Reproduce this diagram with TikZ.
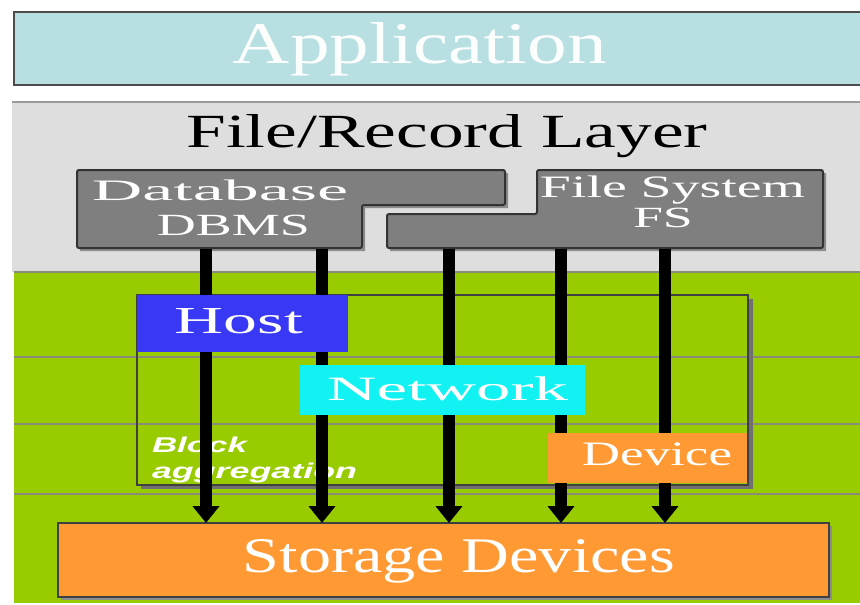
\documentclass[tikz,border=0pt]{standalone}
\usepackage{fontspec}
\setmainfont{Liberation Serif}
\newfontfamily\blkfont{Liberation Sans}
\usetikzlibrary{arrows.meta}
\definecolor{appfill}{HTML}{B8DFE2}
\definecolor{layergray}{HTML}{DEDEDE}
\definecolor{boxgray}{HTML}{7F7F7F}
\definecolor{lgreen}{HTML}{99CC00}
\definecolor{hostblue}{HTML}{3838F5}
\definecolor{netcyan}{HTML}{12F2F2}
\definecolor{devorange}{HTML}{FF9933}
\definecolor{gridgray}{HTML}{8A8A7A}
\definecolor{shadowgray}{HTML}{8C8C8C}
\newcommand\fitlab[3]{\resizebox{#1pt}{#2pt}{#3}}
\tikzset{
  plainbox/.style={rectangle, inner sep=0pt, outer sep=0pt, anchor=north west},
  lbl/.style={inner sep=0pt, outer sep=0pt, anchor=base, text=white},
  gridline/.style={draw=gridgray, line width=1.8pt},
  graybox/.style={fill=boxgray, draw=black!80, line width=2pt, rounded corners=2pt},
  flowarrow/.style={line width=12pt, -{Triangle[width=26pt,length=17pt]}},
}
\begin{document}
\begin{tikzpicture}[x=1pt,y=-1pt]
\useasboundingbox (0,0) rectangle (860,605);
\fill[white] (0,0) rectangle (860,605);

% Application layer
\node[plainbox, fill=appfill, draw=black!70, line width=2.2pt,
      minimum width=850pt, minimum height=73pt] (app) at (14,12) {};
\node[lbl, text=white!96!appfill] (apptext) at (420,63) {\fitlab{374}{41}{Application}};

% File/Record layer background
\fill[layergray] (12,102) rectangle (860,272);
\draw[draw=black!40, line width=2pt] (12,102) -- (860,102);
\node[lbl, text=black] (filerec) at (447,147) {\fitlab{521}{33}{File/Record Layer}};

% Green block area
\fill[lgreen] (14,272) rectangle (860,603);
\foreach \yy in {272,357,424,494} \draw[gridline] (14,\yy) -- (860,\yy);

% Database and File System shapes
\fill[shadowgray, shift={(3,3)}] (77,170) -- (505,170) -- (505,205) -- (362,205) -- (362,248) -- (77,248) -- cycle;
\fill[shadowgray, shift={(3,3)}] (537,170) -- (823,170) -- (823,248) -- (387,248) -- (387,214) -- (537,214) -- cycle;
\draw[graybox] (77,170) -- (505,170) -- (505,205) -- (362,205) -- (362,248) -- (77,248) -- cycle;
\draw[graybox] (537,170) -- (823,170) -- (823,248) -- (387,248) -- (387,214) -- (537,214) -- cycle;
\node[lbl] (dbtext) at (220,200) {\fitlab{256}{20.6}{Database}};
\node[lbl] (dbmstext) at (233.5,235) {\fitlab{153}{20.4}{DBMS}};
\node[lbl] (fstext) at (672.5,197) {\fitlab{265}{21.6}{File System}};
\node[lbl] (fsabbr) at (663,227) {\fitlab{60}{19.4}{FS}};

% Block aggregation frame
\fill[shadowgray!80!black] (748,299) rectangle (752.5,489);
\fill[shadowgray!80!black] (141,485) rectangle (752.5,489);
\node[plainbox, draw=black!75, line width=1.5pt, minimum width=611pt, minimum height=190pt] (blockframe) at (137,295) {};
\node[lbl, anchor=base west] (blk1) at (152,452) {\blkfont\bfseries\itshape\fitlab{95}{15.5}{Block}};
\node[lbl, anchor=base west] (blk2) at (152,478) {\blkfont\bfseries\itshape\fitlab{205}{15.5}{aggregation}};

% Storage devices
\fill[shadowgray] (61,526) rectangle (832,600);
\node[plainbox, fill=devorange, draw=black!75, line width=1.5pt,
      minimum width=771pt, minimum height=74pt] (storage) at (58,523) {};
\node[lbl] (storetext) at (459,572) {\fitlab{432}{33}{Storage Devices}};

% Arrows
\coordinate (a1) at (206,249);
\coordinate (a2) at (322,249);
\coordinate (a3) at (449,249);
\coordinate (a4) at (561,249);
\coordinate (a5) at (665,249);
\foreach \a in {a1,a2,a3,a4,a5} \draw[flowarrow] (\a) -- (\a |- storage.north);

% Host / Network / Device boxes (over arrows)
\node[plainbox, fill=hostblue, minimum width=211pt, minimum height=57pt] (host) at (137,295) {};
\node[lbl] (hosttext) at (239,333) {\fitlab{128}{25}{Host}};
\node[plainbox, fill=netcyan, minimum width=285pt, minimum height=50pt] (net) at (300,365) {};
\node[lbl] (nettext) at (447.5,400) {\fitlab{241}{23.7}{Network}};
\node[plainbox, fill=devorange, minimum width=199pt, minimum height=50pt] (dev) at (548,433) {};
\node[lbl] (devtext) at (657,465) {\fitlab{150}{22.7}{Device}};
\end{tikzpicture}
\end{document}
